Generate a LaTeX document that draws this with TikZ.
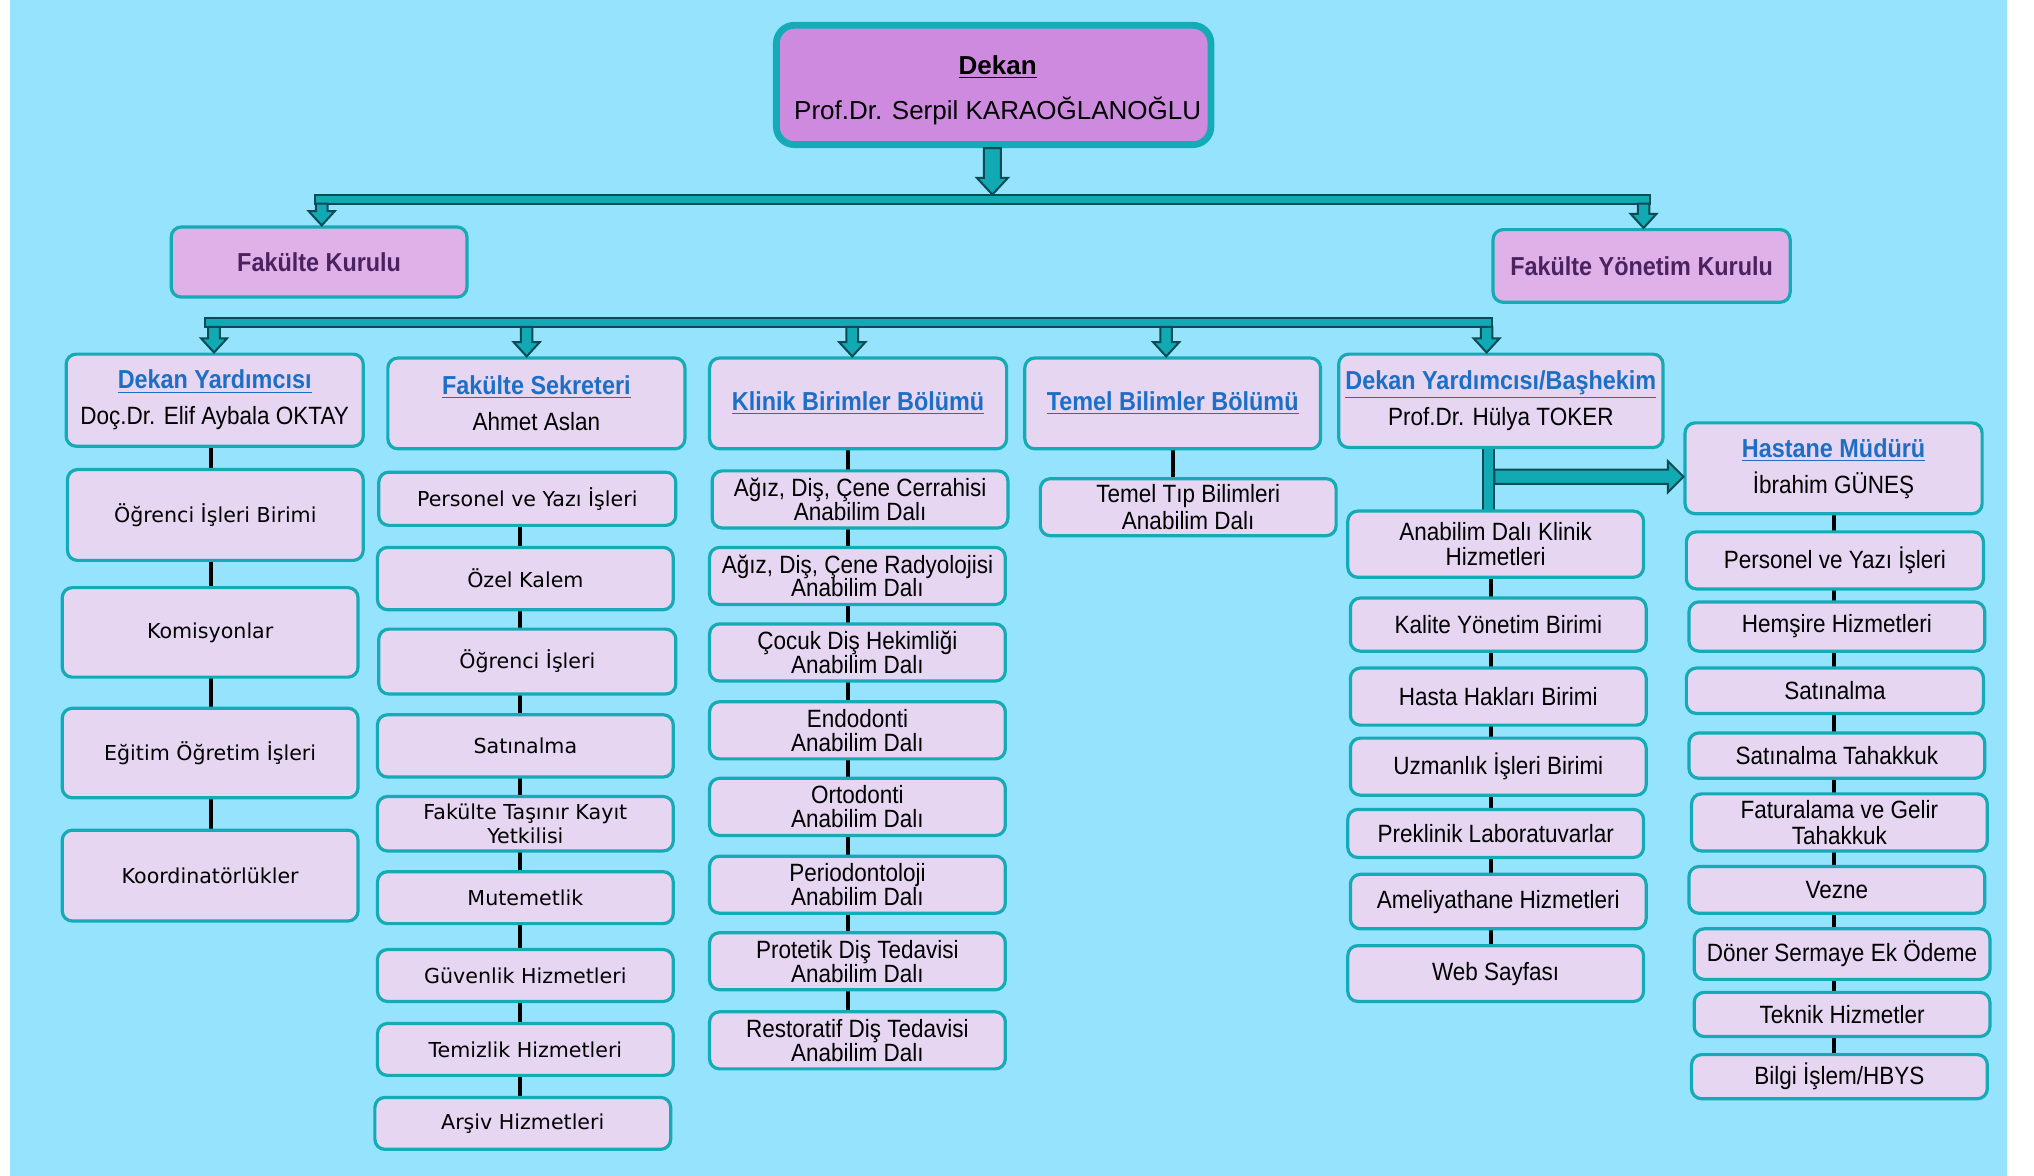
\documentclass[tikz,border=0pt]{standalone}
\usepackage{fontspec}
\setmainfont{Liberation Sans}
\newfontfamily\nar[FakeStretch=0.9]{Liberation Sans}
\newfontfamily\dv{DejaVu Sans}
\usetikzlibrary{calc}
\definecolor{bgc}{HTML}{95E3FD}
\definecolor{lav}{HTML}{E6D6F2}
\definecolor{kur}{HTML}{E0B0E8}
\definecolor{dek}{HTML}{CD8ADF}
\definecolor{tl}{HTML}{14ABB6}
\definecolor{arf}{HTML}{10A9B4}
\definecolor{aro}{HTML}{0C4B53}
\definecolor{hb}{HTML}{1C6FC4}
\definecolor{kt}{HTML}{4A2260}
\pgfdeclarelayer{back}
\pgfdeclarelayer{lines}
\pgfsetlayers{back,lines,main}
\newcommand\hdg[1]{{\color{hb}\bfseries\fontsize{13}{14}\selectfont\underline{#1}}}
\newcommand\blockarr[5]{%
  \coordinate (ba-s) at (#1);
  \coordinate (ba-t) at (#2);
  \coordinate (ba-h) at ($(ba-t)!#5!(ba-s)$);
  \draw[blk] ($(ba-s)!#3!90:(ba-t)$) -- ($(ba-h)!#3!90:(ba-t)$) -- ($(ba-h)!#4!90:(ba-t)$) -- (ba-t)
    -- ($(ba-h)!#4!-90:(ba-t)$) -- ($(ba-h)!#3!-90:(ba-t)$) -- ($(ba-s)!#3!-90:(ba-t)$) -- cycle;}
\begin{document}
\begin{tikzpicture}[x=0.6486pt,y=-0.6486pt,
  sz/.style 2 args={minimum width=#1*0.6486pt, minimum height=#2*0.6486pt},
  box/.style={draw=tl, line width=1.6pt, fill=lav, rounded corners=5pt, align=center, inner sep=1pt},
  dekbox/.style={box, fill=dek, line width=3.4pt, rounded corners=9pt},
  kurbox/.style={box, fill=kur, font=\nar\bfseries\fontsize{13}{15}\selectfont, text=kt},
  hbox/.style={box, font=\nar\fontsize{12.5}{14}\selectfont},
  ca/.style={box, font=\dv\fontsize{10.3}{12.3}\selectfont},
  cb/.style={box, font=\nar\fontsize{12.5}{11.9}\selectfont},
  conn/.style={line width=2pt, black},
  blk/.style={fill=arf, draw=aro, line width=1pt, line join=miter}
]
\useasboundingbox (0,0) rectangle (1568,906.56);
\begin{pgfonlayer}{back}
\fill[white] (0,0) rectangle (1568,906.56);
\fill[bgc] (7.7,0) rectangle (1547.4,906.56);
\end{pgfonlayer}

% top
\node[dekbox, sz={335}{92}, label={[font=\fontsize{13}{15.6}\selectfont, align=center, yshift=-2.6pt, xshift=2pt]center:{\bfseries\underline{Dekan}\\[7pt] Prof.Dr. Serpil KARAOĞLANOĞLU}}] (dekan) at (766,65.5) {};
\node[kurbox, sz={228}{54}] (fk) at (246,202) {Fakülte Kurulu};
\node[kurbox, sz={229}{56}] (fyk) at (1265.5,205) {Fakülte Yönetim Kurulu};

% level 2
\node[hbox, sz={229}{71}] (dy) at (165.5,308.5) {\hdg{Dekan Yardımcısı}\\[4pt] Doç.Dr. Elif Aybala OKTAY};
\node[hbox, sz={229}{70}] (fs) at (413.5,311) {\hdg{Fakülte Sekreteri}\\[4pt] Ahmet Aslan};
\node[hbox, sz={229}{70}] (kb) at (661.5,311) {\hdg{Klinik Birimler Bölümü}};
\node[hbox, sz={228}{70}] (tb) at (904,311) {\hdg{Temel Bilimler Bölümü}};
\node[hbox, sz={250}{72}] (bh) at (1157,309) {\hdg{Dekan Yardımcısı/Başhekim}\\[4pt] Prof.Dr. Hülya TOKER};
\node[hbox, sz={229}{70}] (hm) at (1413.5,361) {\hdg{Hastane Müdürü}\\[4pt] İbrahim GÜNEŞ};

% column 1
\node[ca, sz={228}{70}] (c1a) at (166,397) {Öğrenci İşleri Birimi};
\node[ca, sz={228}{69}] (c1b) at (162,487.5) {Komisyonlar};
\node[ca, sz={228}{69}] (c1c) at (162,580.5) {Eğitim Öğretim İşleri};
\node[ca, sz={228}{70}] (c1d) at (162,675) {Koordinatörlükler};

% column 2
\node[ca, sz={229}{41}] (c2a) at (406.5,384.5) {Personel ve Yazı İşleri};
\node[ca, sz={228}{48}] (c2b) at (405,446) {Özel Kalem};
\node[ca, sz={229}{50}] (c2c) at (406.5,510) {Öğrenci İşleri};
\node[ca, sz={228}{48}] (c2d) at (405,575) {Satınalma};
\node[ca, sz={228}{42}] (c2e) at (405,635) {Fakülte Taşınır Kayıt\\Yetkilisi};
\node[ca, sz={228}{40}] (c2f) at (405,692) {Mutemetlik};
\node[ca, sz={228}{40}] (c2g) at (405,752) {Güvenlik Hizmetleri};
\node[ca, sz={228}{40}] (c2h) at (405,809) {Temizlik Hizmetleri};
\node[ca, sz={228}{40}] (c2i) at (403,866) {Arşiv Hizmetleri};

% column 3
\node[cb, sz={228}{44}] (c3a) at (663,385) {Ağız, Diş, Çene Cerrahisi\\Anabilim Dalı};
\node[cb, sz={228}{44}] (c3b) at (661,444) {Ağız, Diş, Çene Radyolojisi\\Anabilim Dalı};
\node[cb, sz={228}{44}] (c3c) at (661,503) {Çocuk Diş Hekimliği\\Anabilim Dalı};
\node[cb, sz={228}{44}] (c3d) at (661,563) {Endodonti\\Anabilim Dalı};
\node[cb, sz={228}{44}] (c3e) at (661,622) {Ortodonti\\Anabilim Dalı};
\node[cb, sz={228}{44}] (c3f) at (661,682) {Periodontoloji\\Anabilim Dalı};
\node[cb, sz={228}{44}] (c3g) at (661,741) {Protetik Diş Tedavisi\\Anabilim Dalı};
\node[cb, sz={228}{44}] (c3h) at (661,802) {Restoratif Diş Tedavisi\\Anabilim Dalı};

% column 4
\node[cb, sz={228}{44}, font=\nar\fontsize{12.5}{13.6}\selectfont] (c4a) at (916,391) {Temel Tıp Bilimleri\\Anabilim Dalı};

% column 5
\node[cb, sz={228}{51}, font=\nar\fontsize{12.5}{12.3}\selectfont] (c5a) at (1153,419.5) {Anabilim Dalı Klinik\\Hizmetleri};
\node[cb, sz={228}{41}] (c5b) at (1155,481.5) {Kalite Yönetim Birimi};
\node[cb, sz={228}{44}] (c5c) at (1155,537) {Hasta Hakları Birimi};
\node[cb, sz={228}{44}] (c5d) at (1155,591) {Uzmanlık İşleri Birimi};
\node[cb, sz={228}{37}] (c5e) at (1153,642.5) {Preklinik Laboratuvarlar};
\node[cb, sz={228}{42}] (c5f) at (1155,695) {Ameliyathane Hizmetleri};
\node[cb, sz={228}{43}] (c5g) at (1153,750.5) {Web Sayfası};

% column 6
\node[cb, sz={229}{44}] (c6a) at (1414.5,432) {Personel ve Yazı İşleri};
\node[cb, sz={228}{38}] (c6b) at (1416,483) {Hemşire Hizmetleri};
\node[cb, sz={229}{35}] (c6c) at (1414.5,532.5) {Satınalma};
\node[cb, sz={228}{35}] (c6d) at (1416,582.5) {Satınalma Tahakkuk};
\node[cb, sz={228}{44}, font=\nar\fontsize{12.5}{13}\selectfont] (c6e) at (1418,634) {Faturalama ve Gelir\\Tahakkuk};
\node[cb, sz={228}{36}] (c6f) at (1416,686) {Vezne};
\node[cb, sz={228}{39}] (c6g) at (1420,735.5) {Döner Sermaye Ek Ödeme};
\node[cb, sz={228}{34}] (c6h) at (1420,782) {Teknik Hizmetler};
\node[cb, sz={228}{34}] (c6i) at (1418,830) {Bilgi İşlem/HBYS};

% column x positions
\coordinate (x1) at (163,0);
\coordinate (x2) at (401,0);
\coordinate (x3) at (654,0);
\coordinate (x4) at (904,0);
\coordinate (x5) at (1149,0);
\coordinate (x6) at (1414,0);
\coordinate (x5L) at (1143,0);
\coordinate (x5R) at (1152,0);

\begin{pgfonlayer}{lines}
\foreach \a/\b in {dy/c1a,c1a/c1b,c1b/c1c,c1c/c1d}
  \draw[conn] (\a.center -| x1) -- (\b.center -| x1);
\foreach \a/\b in {c2a/c2b,c2b/c2c,c2c/c2d,c2d/c2e,c2e/c2f,c2f/c2g,c2g/c2h,c2h/c2i}
  \draw[conn] (\a.center -| x2) -- (\b.center -| x2);
\foreach \a/\b in {kb/c3a,c3a/c3b,c3b/c3c,c3c/c3d,c3d/c3e,c3e/c3f,c3f/c3g,c3g/c3h}
  \draw[conn] (\a.center -| x3) -- (\b.center -| x3);
\draw[conn] (tb.center -| x4) -- (c4a.center -| x4);
\foreach \a/\b in {c5a/c5b,c5b/c5c,c5c/c5d,c5d/c5e,c5e/c5f,c5f/c5g}
  \draw[conn] (\a.center -| x5) -- (\b.center -| x5);
\foreach \a/\b in {hm/c6a,c6a/c6b,c6b/c6c,c6c/c6d,c6d/c6e,c6e/c6f,c6f/c6g,c6g/c6h,c6h/c6i}
  \draw[conn] (\a.center -| x6) -- (\b.center -| x6);
% Başhekim vertical block bar
\draw[blk] (bh.center -| x5L) rectangle (c5a.center -| x5R);
\end{pgfonlayer}

% bar 1
\coordinate (b1L) at (243,150);
\coordinate (b1R) at (1272,157);
\draw[blk] (b1L) rectangle (b1R);
\coordinate (dtip) at (765,150);
\coordinate (dst) at (dekan.south -| dtip);
\blockarr{dst}{dtip}{4.2pt}{7.8pt}{8.4pt}
\coordinate (a1s) at (248,157);
\coordinate (a1t) at (fk.north -| a1s);
\blockarr{a1s}{a1t}{2.9pt}{6.5pt}{7.1pt}
\coordinate (a2s) at (1267,157);
\coordinate (a2t) at (fyk.north -| a2s);
\blockarr{a2s}{a2t}{2.9pt}{6.5pt}{7.1pt}

% bar 2
\coordinate (b2L) at (158,245);
\coordinate (b2R) at (1150,252);
\draw[blk] (b2L) rectangle (b2R);
\foreach \xx/\nn in {165/dy,406/fs,657/kb,899/tb,1146/bh}{
  \coordinate (q-s) at (\xx,252);
  \coordinate (q-t) at (\nn.north -| q-s);
  \blockarr{q-s}{q-t}{2.9pt}{6.5pt}{7.1pt}
}

% arrow to Hastane Müdürü
\coordinate (hs) at (1152,367.5);
\coordinate (ht) at (hm.west |- hs);
\blockarr{hs}{ht}{3.6pt}{7.8pt}{7.8pt}
\end{tikzpicture}
\end{document}
